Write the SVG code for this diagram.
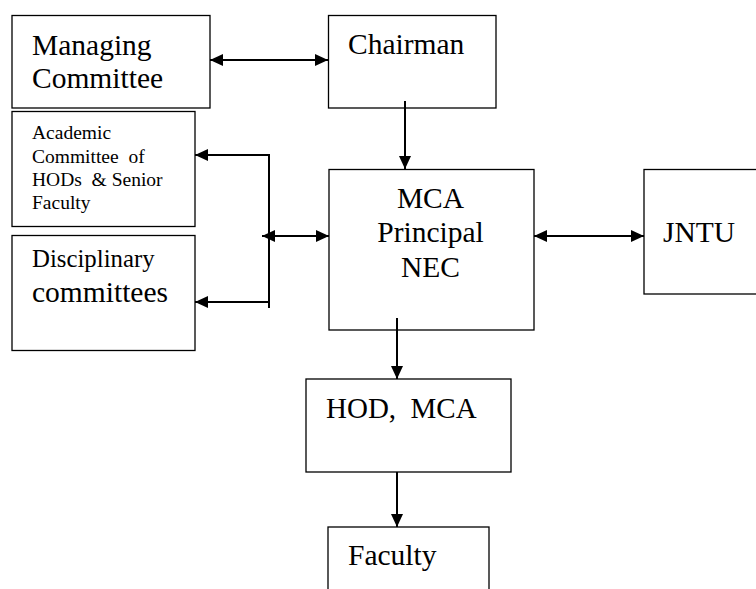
<svg xmlns="http://www.w3.org/2000/svg" width="756" height="589" viewBox="0 0 756 589">
<style>
.box{fill:#fff;stroke:#000;stroke-width:1.3}
.t{font-family:"Liberation Serif","Times New Roman",serif;fill:#000;white-space:pre}
.c{stroke:#000;stroke-width:2;fill:none}
</style>
<defs>
<marker id="ah" markerUnits="userSpaceOnUse" markerWidth="14" markerHeight="13" refX="13" refY="6" orient="auto-start-reverse">
<path d="M0,0 L13,6 L0,12 z" fill="#000"/>
</marker>
</defs>
<rect width="756" height="589" fill="#fff"/>
<g id="managing">
<rect class="box" x="12" y="15.5" width="198" height="92.5"/>
<text class="t" x="32" y="55" font-size="29.5">Managing</text>
<text class="t" x="32" y="88" font-size="29.5">Committee</text>
</g>
<g id="chairman">
<rect class="box" x="328.5" y="15.5" width="167.5" height="92.5"/>
<text class="t" x="348" y="54" font-size="29.5">Chairman</text>
</g>
<g id="academic">
<rect class="box" x="12" y="111.5" width="183" height="115"/>
<text class="t" x="32" y="139" font-size="19.5">Academic</text>
<text class="t" x="32" y="163" font-size="19.5" xml:space="preserve">Committee  of</text>
<text class="t" x="32" y="186" font-size="19.5" xml:space="preserve">HODs  &amp; Senior</text>
<text class="t" x="32" y="209" font-size="19.5">Faculty</text>
</g>
<g id="disciplinary">
<rect class="box" x="12" y="235.5" width="183" height="115"/>
<text class="t" x="32" y="267" font-size="24.8">Disciplinary</text>
<text class="t" x="32" y="302" font-size="29.5">committees</text>
</g>
<g id="principal">
<rect class="box" x="329" y="169.5" width="205" height="160.5"/>
<text class="t" x="430.5" y="208" font-size="29.5" text-anchor="middle">MCA</text>
<text class="t" x="430.5" y="242" font-size="29.5" text-anchor="middle">Principal</text>
<text class="t" x="430.5" y="277" font-size="29.5" text-anchor="middle">NEC</text>
</g>
<g id="jntu">
<rect class="box" x="644" y="169.5" width="130" height="124.5"/>
<text class="t" x="663" y="242" font-size="29.5">JNTU</text>
</g>
<g id="hod">
<rect class="box" x="306" y="379" width="205" height="93"/>
<text class="t" x="326" y="418" font-size="29" xml:space="preserve">HOD,  MCA</text>
</g>
<g id="faculty">
<rect class="box" x="328" y="527" width="161" height="80"/>
<text class="t" x="348" y="565" font-size="29.5">Faculty</text>
</g>
<g id="connectors">
<line class="c" x1="210" y1="60" x2="328" y2="60" marker-start="url(#ah)" marker-end="url(#ah)"/>
<line class="c" x1="405" y1="101" x2="405" y2="169" marker-end="url(#ah)"/>
<line class="c" x1="269" y1="154" x2="269" y2="308"/>
<line class="c" x1="269" y1="155" x2="195" y2="155" marker-end="url(#ah)"/>
<line class="c" x1="269" y1="302" x2="195" y2="302" marker-end="url(#ah)"/>
<line class="c" x1="262" y1="236" x2="329" y2="236" marker-start="url(#ah)" marker-end="url(#ah)"/>
<line class="c" x1="534" y1="236" x2="644" y2="236" marker-start="url(#ah)" marker-end="url(#ah)"/>
<line class="c" x1="397" y1="318" x2="397" y2="379" marker-end="url(#ah)"/>
<line class="c" x1="397" y1="472" x2="397" y2="527" marker-end="url(#ah)"/>
</g>
</svg>
